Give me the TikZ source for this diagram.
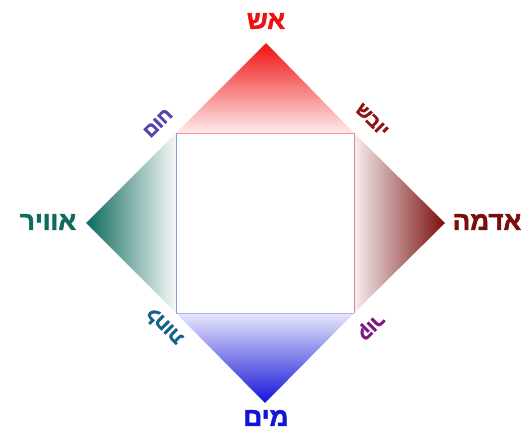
\documentclass[tikz,border=0pt]{standalone}
\usepackage{fontspec}
\newfontfamily\hebfont[Script=Hebrew, FakeBold=2]{Liberation Sans Bold}
\TeXXeTstate=1
\usepackage{tikz}
\usetikzlibrary{calc}
\definecolor{fireRed}{HTML}{F01010}
\definecolor{earthRed}{HTML}{7A0E0E}
\definecolor{airTeal}{HTML}{0E6A5C}
\definecolor{waterBlue}{HTML}{1414D8}
\definecolor{heatPurple}{HTML}{5444B0}
\definecolor{dryRed}{HTML}{8E1616}
\definecolor{coldPurple}{HTML}{7E1686}
\definecolor{moistTeal}{HTML}{12628C}

\begin{document}
\begin{tikzpicture}[
  % pixel grid: x goes right, y goes down
  x={(1pt,0pt)},
  y={(0pt,-1pt)},
  element/.style={
    inner sep=0pt,
    font=\hebfont\fontsize{26}{30}\selectfont
  },
  quality/.style={
    inner sep=0pt,
    font=\hebfont\fontsize{19}{24}\selectfont
  },
]
\useasboundingbox (0,0) rectangle (530,433);

% --- Inner square and diamond tips ---
\coordinate (sq-nw) at (176,133);
\coordinate (sq-ne) at (354,133);
\coordinate (sq-se) at (354,313);
\coordinate (sq-sw) at (176,313);
\coordinate (fire-tip) at (266,43);
\coordinate (earth-tip) at (445,223);
\coordinate (water-tip) at (265,403);
\coordinate (air-tip) at (86,223);

% --- Shaded triangles ---
\shade[top color=fireRed, middle color=fireRed!50!white, bottom color=fireRed!8!white]
  (fire-tip) -- (sq-ne) -- (sq-nw) -- cycle;
\shade[right color=earthRed, middle color=earthRed!45!white, left color=earthRed!7!white]
  (earth-tip) -- (sq-se) -- (sq-ne) -- cycle;
\shade[bottom color=waterBlue, middle color=waterBlue!55!white, top color=waterBlue!10!white]
  (water-tip) -- (sq-sw) -- (sq-se) -- cycle;
\shade[left color=airTeal, middle color=airTeal!45!white, right color=airTeal!4!white]
  (air-tip) -- (sq-nw) -- (sq-sw) -- cycle;

% --- Square edges ---
\draw[fireRed!45, line width=0.6pt] (sq-nw) -- (sq-ne);
\draw[earthRed!40!fireRed!50, line width=0.6pt] (sq-ne) -- (sq-se);
\draw[waterBlue!35, line width=0.6pt] (sq-se) -- (sq-sw);
\draw[airTeal!50!waterBlue!50, line width=0.6pt] (sq-sw) -- (sq-nw);

% --- Elements at the tips ---
\node[element, text=fireRed] (fire) at (266,21) {\beginR אש\endR};
\node[element, text=earthRed] (earth) at (487,222) {\beginR אדמה\endR};
\node[element, text=waterBlue] (water) at (266,418) {\beginR מים\endR};
\node[element, text=airTeal] (air) at (48,222) {\beginR אוויר\endR};

% --- Qualities at the square corners ---
\node[quality, text=heatPurple, rotate=45] (heat) at (158,123) {\beginR חום\endR};
\node[quality, text=dryRed, rotate=-45] (dry) at (372,120) {\beginR יובש\endR};
\node[quality, text=coldPurple, rotate=225] (cold) at (370,326) {\beginR קור\endR};
\node[quality, text=moistTeal, rotate=135] (moist) at (164,327) {\beginR לחות\endR};

\end{tikzpicture}
\end{document}
